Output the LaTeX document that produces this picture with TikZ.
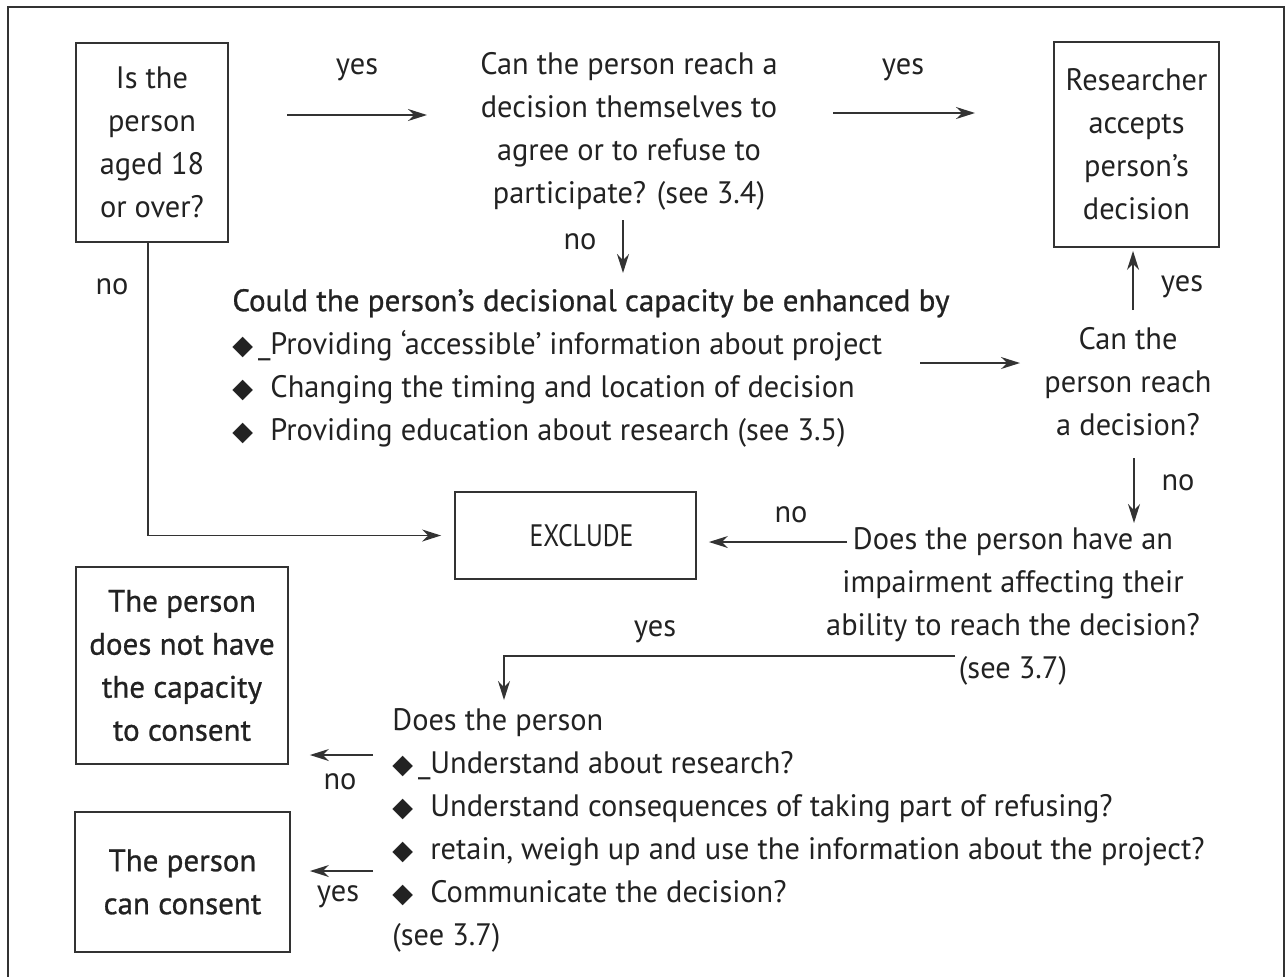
\documentclass[tikz,border=0pt]{standalone}
\usepackage{fontspec}
\setmainfont{PT Sans}[FakeStretch=0.98]
\newfontfamily\medfont{PT Sans}[FakeStretch=1.0, FakeBold=0.8]
\newfontfamily\capsfont{PT Sans}[FakeStretch=0.83]
\newfontfamily\symfont{DejaVu Sans}
\usetikzlibrary{arrows.meta}
\newcommand\dia{{\symfont\fontsize{13.5}{13.5}\selectfont ◆}}
\newcommand\bitem[1]{\makebox[19pt][l]{\dia}#1}
\newcommand\bfirst[1]{\makebox[19pt][s]{\dia\hfill\_}#1}
\definecolor{ink}{HTML}{222222}
\definecolor{rulec}{HTML}{333333}
\begin{document}
\begin{tikzpicture}[x=0.5pt,y=-0.5pt,
  every node/.style={font=\fontsize{15.5}{21.5}\selectfont, text=ink, inner sep=0pt},
  box/.style={draw=rulec, line width=0.9pt, align=center},
  txt/.style={align=center},
  list/.style={align=left, anchor=west},
  arr/.style={draw=rulec, line width=0.9pt, -{Stealth[length=9.5pt,width=6pt]}},
  ln/.style={draw=rulec, line width=0.9pt}]
\useasboundingbox (0,0) rectangle (1288,976);
% outer frame, open at the bottom
\draw[ln] (8,990) -- (8,7) -- (1284,7) -- (1284,990);

% boxes and questions
\node[box, minimum width=76pt, minimum height=99.5pt] (age) at (152,142.5)
  {Is the\\person\\aged 18\\or over?};
\node[txt] (self) at (629,131)
  {Can the person reach a\\decision themselves to\\agree or to refuse to\\participate? (see 3.4)};
\node[box, minimum width=82.5pt, minimum height=102.5pt] (accept) at (1136.5,144.5)
  {Researcher\\accepts\\person’s\\decision};
\node[list] (enh) at (232,368)
  {{\medfont Could the person’s decisional capacity be enhanced by}\\
   \bfirst{Providing ‘accessible’ information about project}\\
   \bitem{Changing the timing and location of decision}\\
   \bitem{Providing education about research (see 3.5)}};
\node[txt] (reach) at (1128,382) {Can the\\person reach\\a decision?};
\node[box, minimum width=120.5pt, minimum height=43.5pt] (excl) at (575.5,535.5) {\capsfont\hspace*{6pt}EXCLUDE};
\node[txt] (imp) at (1013,606.5)
  {Does the person have an\\impairment affecting their\\ability to reach the decision?\\(see 3.7)};
\node[list] (does) at (392,830.5)
  {Does the person\\
   \bfirst{Understand about research?}\\
   \bitem{Understand consequences of taking part of refusing?}\\
   \bitem{retain, weigh up and use the information about the project?}\\
   \bitem{Communicate the decision?}\\
   (see 3.7)};
\node[box, minimum width=106pt, minimum height=98.5pt, font=\fontsize{15.5}{21.5}\medfont] (nocap) at (182,665.5)
  {The person\\does not have\\the capacity\\to consent};
\node[box, minimum width=107.5pt, minimum height=70pt, font=\fontsize{15.5}{21.5}\medfont] (cancon) at (182.5,882)
  {The person\\can consent};

% free ends of connectors
\coordinate (a1) at (287,115);
\coordinate (a2) at (427,115);
\coordinate (b1) at (833,113);
\coordinate (b2) at (975,113);
\coordinate (c1) at (623,220);
\coordinate (c2) at (623,273);
\coordinate (d1) at (920,363);
\coordinate (d2) at (1020,363);
\coordinate (e1) at (1133,310);
\coordinate (f1) at (1134,458);
\coordinate (f2) at (1134,523);
\coordinate (g1) at (847,542);
\coordinate (h1) at (955,656);
\coordinate (h2) at (504,700);
\coordinate (k1) at (373,755);
\coordinate (k2) at (373,871);

% connectors
\draw[arr] (a1) -- (a2);
\draw[arr] (b1) -- (b2);
\draw[arr] (c1) -- (c2);
\draw[arr] (d1) -- (d2);
\draw[arr, shorten >=1.5pt] (e1) -- (e1 |- accept.south);
\draw[arr] (f1) -- (f2);
\draw[arr, shorten >=6pt] (g1) -- (g1 -| excl.east);
\draw[arr, shorten >=6.5pt] ([xshift=-2pt]age.south) |- (excl.west);
\draw[arr] (h1) -| (h2);
\draw[arr, shorten >=10.5pt] (k1) -- (k1 -| nocap.east);
\draw[arr, shorten >=9.5pt] (k2) -- (k2 -| cancon.east);

% branch labels
\node at (357,70) {yes};
\node at (903,70) {yes};
\node at (580,242) {no};
\node at (112,287) {no};
\node at (1182,287) {yes};
\node at (1178,483) {no};
\node at (791,515) {no};
\node at (655,632) {yes};
\node at (340,782) {no};
\node at (338,897) {yes};
\end{tikzpicture}
\end{document}
